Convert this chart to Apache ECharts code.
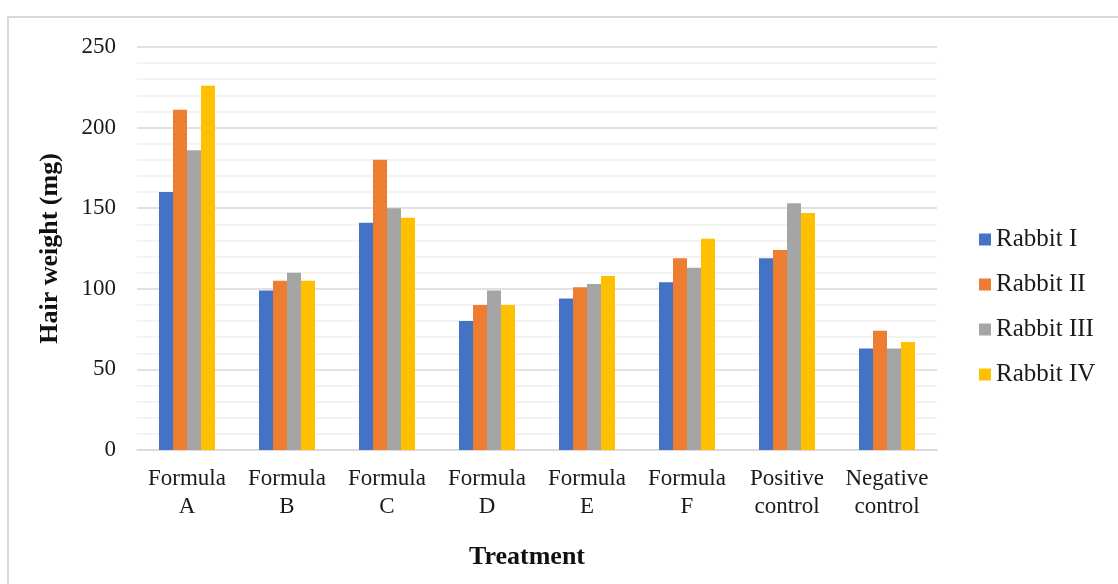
<!DOCTYPE html>
<html><head><meta charset="utf-8">
<script src="https://cdn.jsdelivr.net/npm/echarts@6/dist/echarts.min.js"></script>
<style>html,body{margin:0;padding:0;background:#fff}#c{width:1118px;height:584px}</style>
</head><body><div id="c"></div>
<script>
const categories = ['Formula\nA','Formula\nB','Formula\nC','Formula\nD','Formula\nE','Formula\nF','Positive\ncontrol','Negative\ncontrol'];
const seriesNames = ['Rabbit I','Rabbit II','Rabbit III','Rabbit IV'];
const rabbit1 = [160, 99, 141, 80, 94, 104, 119, 63];
const rabbit2 = [211, 105, 180, 90, 101, 119, 124, 74];
const rabbit3 = [186, 110, 150, 99, 103, 113, 153, 63];
const rabbit4 = [226, 105, 144, 90, 108, 131, 147, 67];
const colors = ['#4472C4','#ED7D31','#A5A5A5','#FFC000'];
const yTicks = {min:0, max:250, interval:50};

const font = 'Liberation Serif, Times New Roman, serif';
const chart = echarts.init(document.getElementById('c'));
const data = [rabbit1, rabbit2, rabbit3, rabbit4];
chart.setOption({
  animation:false,
  graphic:[{type:'rect', shape:{x:8,y:17,width:1300,height:800}, style:{fill:'none', stroke:'#d9d9d9', lineWidth:2}, silent:true, z:-1}],
  grid:{left:137, right:181, top:47, bottom:134},
  legend:{orient:'vertical', left:974, top:222, itemWidth:12, itemHeight:12, itemGap:20, icon:'rect',
    textStyle:{fontFamily:font, fontSize:25, color:'#1a1a1a', lineHeight:24.6, padding:[0,0,0,0]},
    data:seriesNames},
  xAxis:{type:'category', data:categories,
    axisLine:{lineStyle:{color:'#d9d9d9', width:1.5}}, axisTick:{show:false},
    axisLabel:{fontFamily:font, fontSize:23, color:'#1a1a1a', lineHeight:28, margin:15, interval:0},
    name:'Treatment', nameLocation:'middle', nameGap:94,
    nameTextStyle:{fontFamily:font, fontSize:26, fontWeight:'bold', color:'#111', padding:[0,20,0,0]}},
  yAxis:{type:'value', min:yTicks.min, max:yTicks.max, interval:yTicks.interval,
    axisLine:{show:false}, axisTick:{show:false},
    axisLabel:{fontFamily:font, fontSize:23, color:'#1a1a1a', margin:21},
    splitLine:{lineStyle:{color:'#d9d9d9', width:1.5}},
    minorTick:{show:false, splitNumber:5},
    minorSplitLine:{show:true, lineStyle:{color:'#f0f0f0', width:1.5}},
    name:'Hair weight (mg)', nameLocation:'middle', nameGap:74, nameRotate:90,
    nameTextStyle:{fontFamily:font, fontSize:26, fontWeight:'bold', color:'#111'}},
  series: seriesNames.map((n,i)=>({name:n, type:'bar', data:data[i], barGap:'0%', barCategoryGap:'44%',
    itemStyle:{color:colors[i]}}))
});
</script></body></html>
